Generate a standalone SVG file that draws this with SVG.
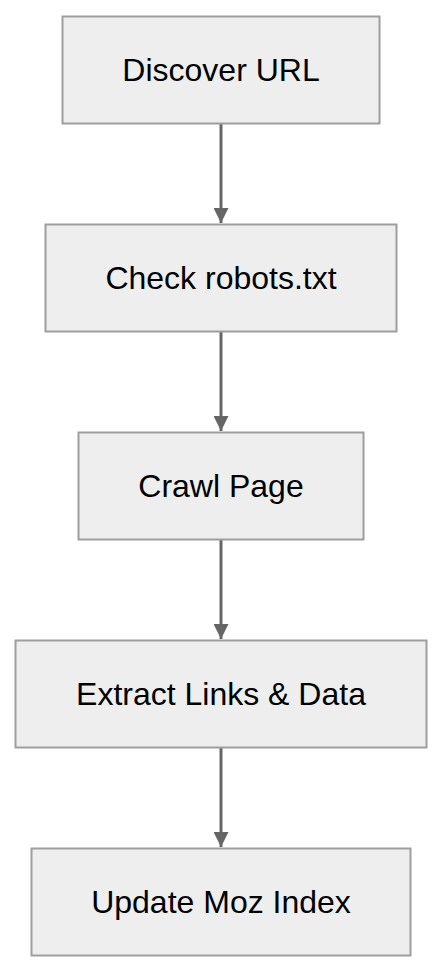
<svg xmlns="http://www.w3.org/2000/svg" width="442" height="972" viewBox="0 0 442 972">
<style>
.box{fill:#eeeeee;stroke:#9e9e9e;stroke-width:2}
.lbl{font-family:"Liberation Sans",Arial,sans-serif;font-size:32px;fill:#000;text-anchor:middle}
.edge{stroke:#666666;stroke-width:3;fill:none}
</style>
<defs>
<marker id="arr" markerWidth="16" markerHeight="15" refX="16" refY="8" viewBox="0 0 16 16" orient="auto" markerUnits="userSpaceOnUse">
<path d="M0,0 L16,8 L0,16 Z" fill="#666666"/>
</marker>
</defs>
<rect width="442" height="972" fill="#ffffff"/>
<g id="connectors">
<line class="edge" x1="221" y1="124" x2="221" y2="223" marker-end="url(#arr)"/>
<line class="edge" x1="221" y1="332" x2="221" y2="431" marker-end="url(#arr)"/>
<line class="edge" x1="221" y1="540" x2="221" y2="639" marker-end="url(#arr)"/>
<line class="edge" x1="221" y1="748" x2="221" y2="847" marker-end="url(#arr)"/>
</g>
<g id="discover">
<rect class="box" x="62.5" y="16.5" width="317" height="107"/>
<text class="lbl" x="221" y="81">Discover URL</text>
</g>
<g id="robots">
<rect class="box" x="45.5" y="224.5" width="351" height="107"/>
<text class="lbl" x="221" y="289">Check robots.txt</text>
</g>
<g id="crawl">
<rect class="box" x="78.5" y="432.5" width="285" height="107"/>
<text class="lbl" x="221" y="497">Crawl Page</text>
</g>
<g id="extract">
<rect class="box" x="15.5" y="640.5" width="411" height="107"/>
<text class="lbl" x="221" y="705">Extract Links &amp; Data</text>
</g>
<g id="update">
<rect class="box" x="31.5" y="848.5" width="379" height="107"/>
<text class="lbl" x="221" y="913">Update Moz Index</text>
</g>
</svg>
